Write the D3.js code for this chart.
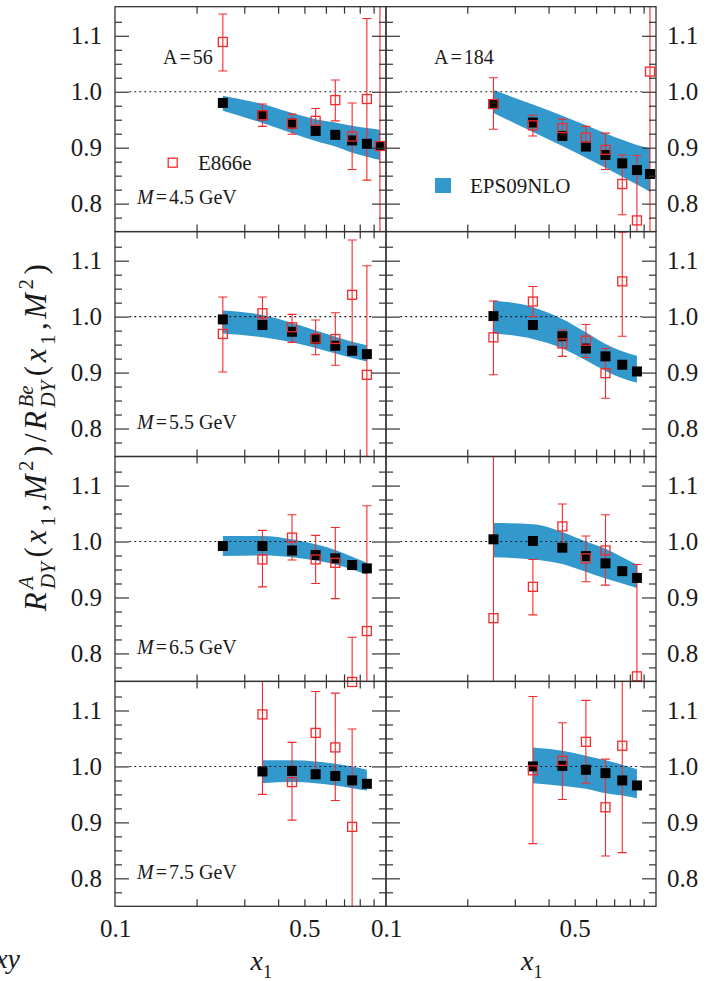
<!DOCTYPE html>
<html>
<head>
<meta charset="utf-8">
<script src="https://cdn.jsdelivr.net/npm/d3@7"></script>
<style>
    body { margin: 0; background: #fff; }
    svg text { font-family: "Liberation Serif", "DejaVu Serif", serif; fill: #1a1a1a; }
</style>
</head>
<body>
<div id="chart"></div>
<script>

// ---- data ----
const nucleusLabels = ["A=56", "A=184"];
const massLabels = ["4.5", "5.5", "6.5", "7.5"];
const xTickLabels = ["0.1", "0.5"];
const yTickLabels = ["0.8", "0.9", "1.0", "1.1"];

// EPS09NLO central values (black squares) and band edges
const epsX_45 = [0.25, 0.35, 0.45, 0.55, 0.65, 0.75, 0.85, 0.95];
const epsX_55 = [0.25, 0.35, 0.45, 0.55, 0.65, 0.75, 0.85];
const epsX_65 = [0.25, 0.35, 0.45, 0.55, 0.65, 0.75, 0.85];
const epsX_75 = [0.35, 0.45, 0.55, 0.65, 0.75, 0.85];

const eps56_45 = [0.980, 0.958, 0.943, 0.930, 0.923, 0.913, 0.907, 0.903];
const eps56_45hi = [0.993, 0.978, 0.962, 0.951, 0.945, 0.939, 0.935, 0.932];
const eps56_45lo = [0.966, 0.944, 0.926, 0.912, 0.902, 0.891, 0.884, 0.878];
const eps184_45 = [0.978, 0.945, 0.921, 0.902, 0.887, 0.872, 0.860, 0.853];
const eps184_45hi = [1.003, 0.977, 0.957, 0.940, 0.926, 0.914, 0.905, 0.899];
const eps184_45lo = [0.962, 0.928, 0.903, 0.882, 0.864, 0.848, 0.834, 0.821];

const eps56_55 = [0.995, 0.985, 0.973, 0.960, 0.948, 0.939, 0.933];
const eps56_55hi = [1.011, 1.003, 0.989, 0.975, 0.964, 0.955, 0.949];
const eps56_55lo = [0.970, 0.963, 0.954, 0.944, 0.934, 0.926, 0.920];
const eps184_55 = [1.001, 0.985, 0.965, 0.943, 0.929, 0.914, 0.902];
const eps184_55hi = [1.029, 1.017, 0.996, 0.972, 0.951, 0.938, 0.930];
const eps184_55lo = [0.970, 0.960, 0.943, 0.922, 0.903, 0.890, 0.882];

const eps56_65 = [0.992, 0.992, 0.984, 0.976, 0.970, 0.958, 0.952];
const eps56_65hi = [1.010, 1.010, 1.004, 0.995, 0.985, 0.973, 0.962];
const eps56_65lo = [0.974, 0.975, 0.972, 0.966, 0.959, 0.950, 0.941];
const eps184_65 = [1.004, 1.001, 0.989, 0.974, 0.961, 0.947, 0.935];
const eps184_65hi = [1.033, 1.031, 1.017, 1.000, 0.987, 0.972, 0.959];
const eps184_65lo = [0.972, 0.968, 0.960, 0.946, 0.934, 0.925, 0.917];

const eps56_75 = [0.991, 0.992, 0.986, 0.983, 0.975, 0.969];
const eps56_75hi = [1.011, 1.011, 1.009, 1.005, 1.000, 0.994];
const eps56_75lo = [0.970, 0.972, 0.970, 0.966, 0.961, 0.957];
const eps184_75 = [1.000, 1.001, 0.994, 0.988, 0.975, 0.966];
const eps184_75hi = [1.034, 1.028, 1.019, 1.011, 1.003, 0.995];
const eps184_75lo = [0.970, 0.965, 0.960, 0.952, 0.948, 0.943];

// E866 data (open red squares) with error bar ends
const e56_45x = [0.25, 0.35, 0.45, 0.55, 0.65, 0.75, 0.85, 0.95];
const e56_45 = [1.089, 0.958, 0.943, 0.948, 0.985, 0.920, 0.987, 0.903];
const e56_45hi = [1.139, 0.978, 0.960, 0.970, 1.021, 0.980, 1.131, 1.250];
const e56_45lo = [1.037, 0.938, 0.924, 0.927, 0.948, 0.861, 0.842, 0.550];
const e184_45x = [0.25, 0.35, 0.45, 0.55, 0.65, 0.75, 0.85, 0.95];
const e184_45 = [0.978, 0.940, 0.935, 0.918, 0.896, 0.835, 0.770, 1.036];
const e184_45hi = [1.025, 0.958, 0.951, 0.938, 0.926, 0.887, 0.886, 1.250];
const e184_45lo = [0.933, 0.921, 0.918, 0.897, 0.861, 0.780, 0.650, 0.550];

const e56_55x = [0.25, 0.35, 0.45, 0.55, 0.65, 0.75, 0.85];
const e56_55 = [0.969, 1.006, 0.981, 0.961, 0.960, 1.039, 0.896];
const e56_55hi = [1.035, 1.035, 1.004, 0.994, 1.007, 1.137, 1.091];
const e56_55lo = [0.901, 0.994, 0.954, 0.932, 0.913, 0.940, 0.550];
const e184_55x = [0.25, 0.35, 0.45, 0.55, 0.65, 0.75];
const e184_55 = [0.963, 1.027, 0.952, 0.957, 0.899, 1.063];
const e184_55hi = [1.028, 1.054, 0.976, 0.986, 0.943, 1.151];
const e184_55lo = [0.896, 1.000, 0.929, 0.927, 0.854, 0.965];

const e56_65x = [0.35, 0.45, 0.55, 0.65, 0.75, 0.85];
const e56_65 = [0.968, 1.007, 0.968, 0.962, 0.749, 0.840];
const e56_65hi = [1.020, 1.048, 1.011, 1.025, 0.829, 1.064];
const e56_65lo = [0.919, 0.967, 0.925, 0.898, 0.550, 0.550];
const e184_65x = [0.25, 0.35, 0.45, 0.55, 0.65, 0.85];
const e184_65 = [0.863, 0.919, 1.027, 0.970, 0.984, 0.759];
const e184_65hi = [1.300, 0.968, 1.067, 1.010, 1.048, 0.959];
const e184_65lo = [0.550, 0.869, 0.994, 0.928, 0.922, 0.550];

const e56_75x = [0.35, 0.45, 0.55, 0.65, 0.75];
const e56_75 = [1.093, 0.972, 1.060, 1.034, 0.892];
const e56_75hi = [1.250, 1.043, 1.134, 1.131, 1.067];
const e56_75lo = [0.950, 0.904, 0.990, 0.939, 0.550];
const e184_75x = [0.35, 0.45, 0.55, 0.65, 0.75];
const e184_75 = [0.993, 1.010, 1.044, 0.927, 1.037];
const e184_75hi = [1.125, 1.078, 1.118, 1.013, 1.250];
const e184_75lo = [0.862, 0.941, 0.970, 0.840, 0.846];


// ---- build panel records (row = mass bin, col = nucleus) ----
function zipEps(xs, v, hi, lo) {
    return xs.map((x, i) => ({ x: x, v: v[i], hi: hi[i], lo: lo[i] }));
}

const panels = [
    { row: 0, col: 0, eps: zipEps(epsX_45, eps56_45, eps56_45hi, eps56_45lo), e866: zipEps(e56_45x, e56_45, e56_45hi, e56_45lo) },
    { row: 0, col: 1, eps: zipEps(epsX_45, eps184_45, eps184_45hi, eps184_45lo), e866: zipEps(e184_45x, e184_45, e184_45hi, e184_45lo) },
    { row: 1, col: 0, eps: zipEps(epsX_55, eps56_55, eps56_55hi, eps56_55lo), e866: zipEps(e56_55x, e56_55, e56_55hi, e56_55lo) },
    { row: 1, col: 1, eps: zipEps(epsX_55, eps184_55, eps184_55hi, eps184_55lo), e866: zipEps(e184_55x, e184_55, e184_55hi, e184_55lo) },
    { row: 2, col: 0, eps: zipEps(epsX_65, eps56_65, eps56_65hi, eps56_65lo), e866: zipEps(e56_65x, e56_65, e56_65hi, e56_65lo) },
    { row: 2, col: 1, eps: zipEps(epsX_65, eps184_65, eps184_65hi, eps184_65lo), e866: zipEps(e184_65x, e184_65, e184_65hi, e184_65lo) },
    { row: 3, col: 0, eps: zipEps(epsX_75, eps56_75, eps56_75hi, eps56_75lo), e866: zipEps(e56_75x, e56_75, e56_75hi, e56_75lo) },
    { row: 3, col: 1, eps: zipEps(epsX_75, eps184_75, eps184_75hi, eps184_75lo), e866: zipEps(e184_75x, e184_75, e184_75hi, e184_75lo) }
];


// ---- layout ----
const width = 714, height = 981;
const colEdges = [115, 386, 656];
const rowTop = 6.7, rowH = 224.9;
const bandColor = "#3399cc";
const red = "#f52a2a";

const svg = d3.select("#chart").append("svg")
    .attr("width", width)
    .attr("height", height);


DYPanel = function (_svg, _panel) {
    this.svg = _svg;
    this.panel = _panel;
    this.initVis();
};

DYPanel.prototype.initVis = function () {
    var vis = this;
    var p = vis.panel;

    vis.x0 = colEdges[p.col];
    vis.x1 = colEdges[p.col + 1];
    vis.y0 = rowTop + p.row * rowH;
    vis.y1 = vis.y0 + rowH;

    vis.x = d3.scaleLog().domain([0.1, 1]).range([vis.x0, vis.x1]);
    vis.y = d3.scaleLinear().domain([0.75, 1.152]).range([vis.y1, vis.y0]);

    vis.g = vis.svg.append("g");

    // clip for band and error bars
    var clipId = "clip-" + p.row + "-" + p.col;
    vis.g.append("clipPath").attr("id", clipId)
        .append("rect")
        .attr("x", vis.x0).attr("y", vis.y0)
        .attr("width", vis.x1 - vis.x0).attr("height", vis.y1 - vis.y0);

    var inner = vis.g.append("g").attr("clip-path", "url(#" + clipId + ")");

    // EPS09 uncertainty band
    var area = d3.area()
        .x(d => vis.x(d.x))
        .y0(d => vis.y(d.lo))
        .y1(d => vis.y(d.hi))
        .curve(d3.curveMonotoneX);

    inner.append("path")
        .datum(p.eps)
        .attr("d", area)
        .attr("fill", bandColor);

    // dotted line at unity
    inner.append("line")
        .attr("x1", vis.x(0.113)).attr("x2", vis.x(0.885))
        .attr("y1", vis.y(1)).attr("y2", vis.y(1))
        .attr("stroke", "#111")
        .attr("stroke-width", 1.1)
        .attr("stroke-dasharray", "1.8,3.2");

    // EPS09 central values
    vis.g.append("g")
        .selectAll("rect")
        .data(p.eps)
        .enter()
        .append("rect")
        .attr("x", d => vis.x(d.x) - 5)
        .attr("y", d => vis.y(d.v) - 5)
        .attr("width", 10)
        .attr("height", 10)
        .attr("fill", "#000");

    // E866 error bars
    var bars = inner.append("g")
        .attr("stroke", red)
        .attr("stroke-width", 1.1)
        .selectAll("g")
        .data(p.e866)
        .enter()
        .append("g");

    bars.append("line")
        .attr("x1", d => vis.x(d.x)).attr("x2", d => vis.x(d.x))
        .attr("y1", d => vis.y(d.lo)).attr("y2", d => vis.y(d.hi));
    bars.append("line")
        .attr("x1", d => vis.x(d.x) - 4.5).attr("x2", d => vis.x(d.x) + 4.5)
        .attr("y1", d => vis.y(d.hi)).attr("y2", d => vis.y(d.hi));
    bars.append("line")
        .attr("x1", d => vis.x(d.x) - 4.5).attr("x2", d => vis.x(d.x) + 4.5)
        .attr("y1", d => vis.y(d.lo)).attr("y2", d => vis.y(d.lo));

    // E866 points
    vis.g.append("g")
        .selectAll("rect")
        .data(p.e866)
        .enter()
        .append("rect")
        .attr("x", d => vis.x(d.x) - 4.5)
        .attr("y", d => vis.y(d.v) - 4.5)
        .attr("width", 9)
        .attr("height", 9)
        .attr("fill", "none")
        .attr("stroke", red)
        .attr("stroke-width", 1.3);

    vis.drawAxes();
};

DYPanel.prototype.drawAxes = function () {
    var vis = this;
    var p = vis.panel;

    var yMajor = yTickLabels.map(Number);
    var yMinor = [0.775, 0.825, 0.85, 0.875, 0.925, 0.95, 0.975, 1.025, 1.05, 1.075, 1.125];
    var xMinor = [0.2, 0.3, 0.4, 0.5, 0.6, 0.7, 0.8, 0.9];

    function styleAxis(g) {
        g.select(".domain").remove();
        g.attr("color", "#333")
            .attr("font-family", null)
            .attr("font-size", 25);
        g.selectAll("line").attr("stroke-width", 1.2);
    }

    // left side
    vis.g.append("g")
        .attr("transform", `translate(${vis.x0},0)`)
        .call(d3.axisLeft(vis.y).tickValues(yMajor).tickSize(-14).tickPadding(13)
            .tickFormat((d, i) => p.col === 0 ? yTickLabels[i] : ""))
        .call(styleAxis);
    vis.g.append("g")
        .attr("transform", `translate(${vis.x0},0)`)
        .call(d3.axisLeft(vis.y).tickValues(yMinor).tickSize(-7).tickFormat(""))
        .call(styleAxis);

    // right side
    vis.g.append("g")
        .attr("transform", `translate(${vis.x1},0)`)
        .call(d3.axisRight(vis.y).tickValues(yMajor).tickSize(-14).tickPadding(11)
            .tickFormat((d, i) => p.col === 1 ? yTickLabels[i] : ""))
        .call(styleAxis);
    vis.g.append("g")
        .attr("transform", `translate(${vis.x1},0)`)
        .call(d3.axisRight(vis.y).tickValues(yMinor).tickSize(-7).tickFormat(""))
        .call(styleAxis);

    // top and bottom
    vis.g.append("g")
        .attr("transform", `translate(0,${vis.y0})`)
        .call(d3.axisTop(vis.x).tickValues(xMinor).tickSize(-7).tickFormat(""))
        .call(styleAxis);
    vis.g.append("g")
        .attr("transform", `translate(0,${vis.y1})`)
        .call(d3.axisBottom(vis.x).tickValues(xMinor).tickSize(-7).tickFormat(""))
        .call(styleAxis);

    if (p.row === 3) {
        vis.g.append("g")
            .attr("transform", `translate(0,${vis.y1})`)
            .call(d3.axisBottom(vis.x).tickValues(xTickLabels.map(Number)).tickSize(0).tickPadding(13)
                .tickFormat((d, i) => xTickLabels[i]))
            .call(styleAxis);
    }

    // frame
    vis.g.append("rect")
        .attr("x", vis.x0).attr("y", vis.y0)
        .attr("width", vis.x1 - vis.x0).attr("height", vis.y1 - vis.y0)
        .attr("fill", "none")
        .attr("stroke", "#333")
        .attr("stroke-width", 1.3);

    // mass label (left column only)
    if (p.col === 0) {
        var m = vis.g.append("text")
            .attr("x", vis.x0 + 22)
            .attr("y", vis.y0 + 197.5)
            .attr("font-size", 20);
        m.append("tspan").attr("font-style", "italic").text("M");
        m.append("tspan").attr("dx", 2).text("=");
        m.append("tspan").attr("dx", 2).text(massLabels[p.row]);
        m.append("tspan").attr("dx", 5).text("GeV");
    }

    if (p.row === 0) {
        var parts = nucleusLabels[p.col].split("=");
        var a = vis.g.append("text")
            .attr("x", vis.x0 + 48)
            .attr("y", vis.y0 + 57.5)
            .attr("font-size", 20);
        a.append("tspan").text(parts[0]);
        a.append("tspan").attr("dx", 2).text("=");
        a.append("tspan").attr("dx", 2).text(parts[1]);
    }
};

panels.forEach(p => new DYPanel(svg, p));


// ---- legends ----
svg.append("rect")
    .attr("x", 168.2).attr("y", 158.2)
    .attr("width", 9).attr("height", 9)
    .attr("fill", "none").attr("stroke", red).attr("stroke-width", 1.3);
svg.append("text")
    .attr("x", 198).attr("y", 170)
    .attr("font-size", 21)
    .text("E866e");

svg.append("rect")
    .attr("x", 435).attr("y", 178)
    .attr("width", 16).attr("height", 15)
    .attr("fill", bandColor);
svg.append("text")
    .attr("x", 470).attr("y", 193)
    .attr("font-size", 21)
    .text("EPS09NLO");


// ---- math-like labels built piece by piece ----
function mathText(g, pieces, size, small, gap) {
    var x = 0;
    gap = gap || 0;
    pieces.forEach(function (pc) {
        if (pc.t) {
            var t = g.append("text")
                .attr("x", x).attr("y", 0)
                .attr("font-size", size)
                .attr("font-style", pc.it ? "italic" : "normal")
                .text(pc.t);
            x += t.node().getComputedTextLength() + gap;
        } else {
            var w = 0;
            if (pc.sup) {
                var s = g.append("text")
                    .attr("x", x).attr("y", -size * 0.42)
                    .attr("font-size", small)
                    .attr("font-style", pc.up ? "normal" : "italic")
                    .text(pc.sup);
                w = Math.max(w, s.node().getComputedTextLength());
            }
            if (pc.sub) {
                var b = g.append("text")
                    .attr("x", x).attr("y", size * 0.28)
                    .attr("font-size", small)
                    .attr("font-style", pc.up ? "normal" : "italic")
                    .text(pc.sub);
                w = Math.max(w, b.node().getComputedTextLength());
            }
            x += w + 1 + gap;
        }
    });
    return x;
}

var titlePieces = [
    { t: "R", it: true }, { sup: "A", sub: "DY" },
    { t: "(" }, { t: "x", it: true }, { sub: "1", up: true }, { t: "," }, { t: "M", it: true }, { sup: "2", up: true }, { t: ")" },
    { t: "/" },
    { t: "R", it: true }, { sup: "Be", sub: "DY" },
    { t: "(" }, { t: "x", it: true }, { sub: "1", up: true }, { t: "," }, { t: "M", it: true }, { sup: "2", up: true }, { t: ")" }
];

// measure once, then spread the pieces to the length seen in the figure
var probe = svg.append("g");
var natural = mathText(probe, titlePieces, 31, 21);
probe.remove();
var titleGap = Math.max(0, Math.min(3.5, (360 - natural) / titlePieces.length));

var yTitle = svg.append("g");
var titleLen = mathText(yTitle, titlePieces, 31, 21, titleGap);
yTitle.attr("transform", `translate(46,${436 + titleLen / 2}) rotate(-90)`);

[0, 1].forEach(function (c) {
    var g = svg.append("g")
        .attr("transform", `translate(${(colEdges[c] + colEdges[c + 1]) / 2},970)`);
    mathText(g, [{ t: "x", it: true }, { sub: "1", up: true }], 28, 18);
});

// cut-off label at the bottom left
svg.append("text")
    .attr("x", 20).attr("y", 968)
    .attr("text-anchor", "end")
    .attr("font-size", 28)
    .attr("font-style", "italic")
    .text("xy");

</script>
</body>
</html>
